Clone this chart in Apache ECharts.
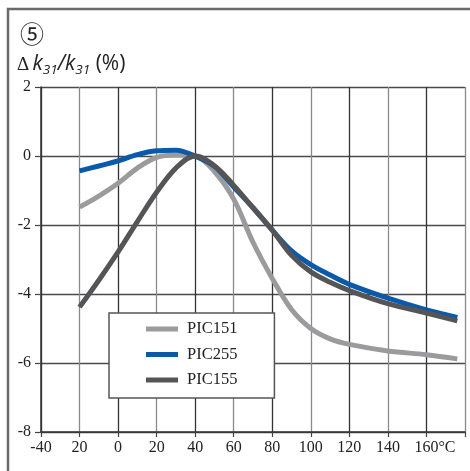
<!DOCTYPE html>
<html>
<head>
<meta charset="utf-8">
<script src="https://cdn.jsdelivr.net/npm/echarts@6/dist/echarts.min.js"></script>
<style>
html,body{margin:0;padding:0;background:#fff;}
#c{width:470px;height:471px;}
</style>
</head>
<body>
<div id="c"></div>
<script>
// ---- data ----
const seriesNames = ['PIC151', 'PIC255', 'PIC155'];
const temps = [-20, -10, 0, 10, 20, 30, 40, 50, 60, 70, 80, 90, 100, 110, 120, 140, 160, 176];
const pic151 = [-1.48, -1.16, -0.79, -0.35, -0.04, 0.03, 0, -0.45, -1.25, -2.5, -3.55, -4.45, -5.0, -5.3, -5.46, -5.65, -5.76, -5.88];
const pic255 = [-0.43, -0.29, -0.14, 0.04, 0.15, 0.17, 0, -0.3, -0.9, -1.5, -2.15, -2.75, -3.15, -3.45, -3.72, -4.12, -4.46, -4.68];
const pic155 = [-4.38, -3.6, -2.78, -1.9, -1.05, -0.35, 0, -0.28, -0.85, -1.5, -2.15, -2.88, -3.36, -3.66, -3.9, -4.28, -4.55, -4.78];
const xTickLabels = ['-40', '20', '0', '20', '40', '60', '80', '100', '120', '140', '160°C', ''];
const yTickLabels = ['-8', '-6', '-4', '-2', '0', '2'];
const colors = ['#9b9b9d', '#0b5aa9', '#555557'];

const chart = echarts.init(document.getElementById('c'), null, {renderer: 'canvas'});
const serif = '"Liberation Serif"';
const xMin = -40, xMax = 180, xStep = 20;
const yMin = -8, yMax = 2, yStep = 2;

function pairs(vals) { return temps.map((t, i) => [t, vals[i]]); }

const option = {
  animation: false,
  backgroundColor: '#fff',
  grid: {left: 41, right: 5, top: 87, bottom: 39, containLabel: false},
  graphic: [{
    type: 'rect', silent: true, z: 0,
    shape: {x: 8, y: 9, width: 480, height: 480},
    style: {fill: 'none', stroke: '#6a6a6a', lineWidth: 2.5}
  }, {
    type: 'text', left: 20, top: 22, z: 10,
    style: {text: '⑤', font: '24px "Noto Sans CJK JP"', fill: '#222'}
  }, {
    type: 'text', left: 17, top: 54, z: 10,
    style: {
      text: '{d|Δ} {k|k}{s|31}{k|/k}{s|31}{p| (%)}',
      rich: {
        d: {fontFamily: serif, fontSize: 19, lineHeight: 26, verticalAlign: 'middle', fill: '#222', padding: [2, 0, 0, 0]},
        k: {fontFamily: 'Open Sans', fontStyle: 'italic', fontSize: 21, lineHeight: 26, verticalAlign: 'middle', fill: '#222'},
        s: {fontFamily: 'Open Sans', fontStyle: 'italic', fontSize: 13.5, lineHeight: 26, verticalAlign: 'bottom', fill: '#222'},
        p: {fontFamily: 'Open Sans', fontSize: 21, lineHeight: 26, verticalAlign: 'middle', fill: '#222'}
      }
    }
  }],
  legend: {
    orient: 'vertical',
    left: 109, top: 313,
    padding: [7, 37, 9, 37],
    backgroundColor: '#fff',
    borderColor: '#555',
    borderWidth: 1.5,
    borderRadius: 0,
    itemWidth: 32, itemHeight: 5,
    itemGap: 7.5,
    icon: 'rect',
    data: seriesNames,
    textStyle: {fontFamily: serif, fontSize: 16.5, color: '#222', lineHeight: 18, padding: [0, 0, 0, 4]}
  },
  xAxis: {
    type: 'value', min: xMin, max: xMax, interval: xStep,
    axisLine: {show: true, onZero: false, lineStyle: {color: '#333', width: 1.5}},
    axisTick: {show: true, inside: false, length: 5, lineStyle: {color: '#444', width: 1.2}},
    axisLabel: {
      margin: 8, fontFamily: serif, fontSize: 16, color: '#222',
      formatter: function (v) {
        const idx = Math.round((v - xMin) / xStep);
        const s = xTickLabels[idx] || '';
        if (s.indexOf('°C') > 0) {
          return '{pad|}' + s;
        }
        return s;
      },
      rich: {pad: {width: 17, fontFamily: serif, fontSize: 16}}
    },
    splitLine: {show: true, lineStyle: {color: ['#333', '#8a8a8a'], width: 1.3}}
  },
  yAxis: {
    type: 'value', min: yMin, max: yMax, interval: yStep,
    axisLine: {show: true, onZero: false, lineStyle: {color: '#333', width: 1.5}},
    axisTick: {show: true, inside: false, length: 6, lineStyle: {color: '#444', width: 1.2}},
    axisLabel: {
      margin: 10, fontFamily: serif, fontSize: 16, color: '#222',
      formatter: function (v) {
        const idx = Math.round((v - yMin) / yStep);
        return yTickLabels[idx];
      }
    },
    splitLine: {show: true, lineStyle: {color: '#4a4a4a', width: 1.3}}
  },
  series: [
    {name: seriesNames[0], type: 'line', data: pairs(pic151), smooth: 0.35, showSymbol: false, z: 3,
     lineStyle: {width: 5, color: colors[0], cap: 'butt'}, itemStyle: {color: colors[0]}},
    {name: seriesNames[1], type: 'line', data: pairs(pic255), smooth: 0.35, showSymbol: false, z: 4,
     lineStyle: {width: 5, color: colors[1], cap: 'butt'}, itemStyle: {color: colors[1]}},
    {name: seriesNames[2], type: 'line', data: pairs(pic155), smooth: 0.35, showSymbol: false, z: 5,
     lineStyle: {width: 5, color: colors[2], cap: 'butt'}, itemStyle: {color: colors[2]}}
  ]
};
chart.setOption(option);
</script>
</body>
</html>
